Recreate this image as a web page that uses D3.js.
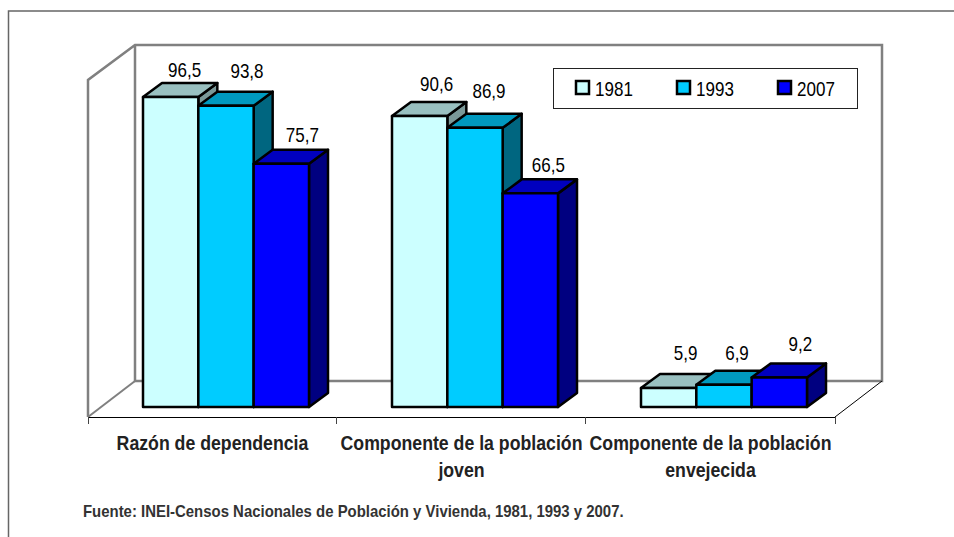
<!DOCTYPE html>
<html>
<head>
<meta charset="utf-8">
<script src="https://cdn.jsdelivr.net/npm/d3@7"></script>
<style>
  html, body { margin: 0; padding: 0; background: #fff; }
  text { font-family: "Liberation Sans", sans-serif; }
</style>
</head>
<body>
<div id="chart"></div>
<script>
var categories = [["Razón de dependencia"], ["Componente de la población", "joven"], ["Componente de la población", "envejecida"]];
var years = ["1981", "1993", "2007"];
var values1981 = [96.5, 90.6, 5.9];
var values1993 = [93.8, 86.9, 6.9];
var values2007 = [75.7, 66.5, 9.2];
var fronts = ["#ccffff", "#00ccff", "#0000ff"];
var tops = ["#99c0c0", "#0099bf", "#0000bf"];
var sides = ["#7a9999", "#006680", "#000080"];
var sourceNote = "Fuente: INEI-Censos Nacionales de Población y Vivienda, 1981, 1993 y 2007.";

// the labels were dragged by hand in the original, so each has its own nudge [dx, dy]
var labelNudge1981 = [[14, -20], [17, -25], [17, -28]];
var labelNudge1993 = [[21, -28], [14, -30], [13, -25]];
var labelNudge2007 = [[21, -22], [18, -21], [21, -26]];

var width = 954, height = 537;
var series = [values1981, values1993, values2007];
var nudges = [labelNudge1981, labelNudge1993, labelNudge2007];

var svg = d3.select("#chart").append("svg")
  .attr("width", width)
  .attr("height", height)
  .style("display", "block");

// no narrow font installed, so squeeze the glyphs to the width they need
function squeeze(sel, k) {
  sel.attr("lengthAdjust", "spacingAndGlyphs")
    .attr("textLength", sel.node().getComputedTextLength() * k);
  return sel;
}

// outer frame, only top and left are in the picture
svg.append("path")
  .attr("d", "M8.5,537V11H954")
  .attr("fill", "none")
  .attr("stroke", "#666")
  .attr("stroke-width", 1.5);

// depth of the bars
var barDepthX = 19, barDepthY = 14;

// scales
var x0 = d3.scaleBand().domain(d3.range(categories.length)).range([88, 835]);
var x1 = d3.scaleBand().domain(d3.range(years.length)).range([55, 221]);
var y = d3.scaleLinear().domain([0, 96.5]).range([407, 97]);

// walls
var wall = svg.append("g").attr("fill", "none").attr("stroke", "#808080").attr("stroke-width", 2.5);
wall.append("path").attr("d", "M88,417V80L135,45H882V381H135V45");
wall.append("path").attr("d", "M135,381L88,417").attr("stroke-width", 2);
svg.append("path").attr("d", "M882,381L835,417").attr("fill", "none").attr("stroke", "#000").attr("stroke-width", 1);

// category axis
var axisG = svg.append("g").attr("fill", "none").attr("stroke", "#000");
axisG.append("line").attr("x1", 88).attr("x2", 835).attr("y1", 417.5).attr("y2", 417.5);
x0.domain().concat([categories.length]).forEach(function(i) {
  var tx = Math.round(i < categories.length ? x0(i) : x0.range()[1]) - (i == 1 || i == 2 ? 1 : 0) + 0.5;
  axisG.append("line").attr("x1", tx).attr("x2", tx).attr("y1", 417).attr("y2", 424).attr("stroke", "#444");
});

// bars, one series at a time so neighbours overlap like the original
categories.forEach(function(c, ci) {
  years.forEach(function(yr, si) {
    var v = series[si][ci];
    var bx = x0(ci) + x1(si);
    var bw = x1.bandwidth();
    var by = y(v);
    var base = y(0);
    var g = svg.append("g").attr("stroke", "#000").attr("stroke-width", 2.5).attr("stroke-linejoin", "round");
    g.append("path").attr("fill", sides[si])
      .attr("d", "M" + (bx + bw) + "," + by + "l" + barDepthX + "," + (-barDepthY) + "V" + (base - barDepthY) + "L" + (bx + bw) + "," + base + "Z");
    g.append("path").attr("fill", tops[si])
      .attr("d", "M" + bx + "," + by + "l" + barDepthX + "," + (-barDepthY) + "h" + bw + "l" + (-barDepthX) + "," + barDepthY + "Z");
    g.append("rect").attr("x", bx).attr("y", by).attr("width", bw).attr("height", base - by).attr("fill", fronts[si]);
  });
});

// value labels go on last, they sit over the bars behind them
categories.forEach(function(c, ci) {
  years.forEach(function(yr, si) {
    var v = series[si][ci];
    var t = svg.append("text")
      .attr("x", x0(ci) + x1(si) + x1.bandwidth() / 2 + nudges[si][ci][0])
      .attr("y", y(v) + nudges[si][ci][1])
      .attr("text-anchor", "middle")
      .attr("font-size", 21)
      .attr("fill", "#000")
      .text(String(v).replace(".", ","));
    squeeze(t, 0.81);
  });
});

// category labels
categories.forEach(function(lines, ci) {
  var cx = x0(ci) + x0.bandwidth() / 2;
  lines.forEach(function(l, li) {
    var t = svg.append("text")
      .attr("x", cx)
      .attr("y", 450 + li * 26.5)
      .attr("text-anchor", "middle")
      .attr("font-size", 20)
      .attr("font-weight", "bold")
      .attr("fill", "#222")
      .text(l);
    squeeze(t, 0.885);
  });
});

// legend
svg.append("rect")
  .attr("x", 553.5).attr("y", 68.5).attr("width", 304).attr("height", 40)
  .attr("fill", "#fff").attr("stroke", "#222").attr("stroke-width", 1);
var legendX = d3.scalePoint().domain(years).range([576, 778]);
years.forEach(function(yr, i) {
  svg.append("rect")
    .attr("x", legendX(yr)).attr("y", 81).attr("width", 13).attr("height", 13)
    .attr("fill", fronts[i]).attr("stroke", "#000").attr("stroke-width", 2.5);
  var t = svg.append("text")
    .attr("x", legendX(yr) + 19).attr("y", 96)
    .attr("font-size", 21).attr("fill", "#000")
    .text(yr);
  squeeze(t, 0.81);
});

// source
var src = svg.append("text")
  .attr("x", 83).attr("y", 516.5)
  .attr("font-size", 17).attr("font-weight", "bold").attr("fill", "#333")
  .text(sourceNote);
squeeze(src, 0.878);
</script>
</body>
</html>
